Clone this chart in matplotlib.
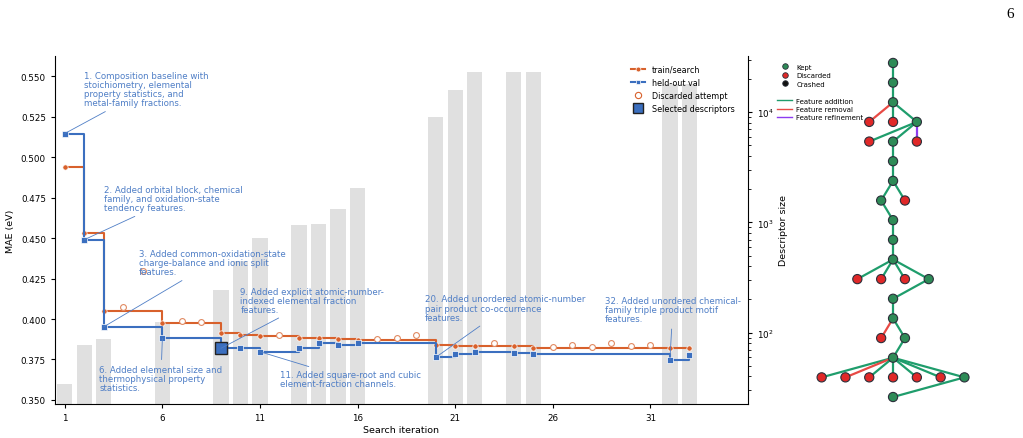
import matplotlib
matplotlib.use("Agg")
import matplotlib.pyplot as plt
from matplotlib.lines import Line2D

# Search history (kept steps)
kept_iter = [1, 2, 3, 6, 9, 10, 11, 13, 14, 15, 16, 20, 21, 22, 24, 25, 32, 33]
train_mae = [0.4940, 0.4529, 0.4051, 0.3975, 0.3912, 0.3903, 0.3897, 0.3885, 0.3881,
             0.3879, 0.3872, 0.3840, 0.3835, 0.3835, 0.3835, 0.3819, 0.3819, 0.3819]
val_mae = [0.5146, 0.4490, 0.3952, 0.3881, 0.3819, 0.3820, 0.3798, 0.3820, 0.3854,
           0.3841, 0.3850, 0.3763, 0.3784, 0.3794, 0.3792, 0.3786, 0.3749, 0.3778]
descriptor_size = [34, 77, 88, 126, 244, 447, 724, 949, 968, 1320, 2055, 9060,
                   15900, 23200, 23200, 23200, 18000, 18000]

# Discarded attempts
disc_iter = [4, 5, 7, 8, 12, 17, 18, 19, 23, 26, 27, 28, 29, 30, 31]
disc_mae = [0.4072, 0.4294, 0.3990, 0.3983, 0.3899, 0.3874, 0.3881, 0.3901, 0.3850,
            0.3829, 0.3840, 0.3829, 0.3854, 0.3831, 0.3841]

selected_iter = 9

# Annotated steps
annot_iter = [1, 2, 3, 6, 9, 11, 20, 32]
annot_text = [
    "1. Composition baseline with\nstoichiometry, elemental\nproperty statistics, and\nmetal-family fractions.",
    "2. Added orbital block, chemical\nfamily, and oxidation-state\ntendency features.",
    "3. Added common-oxidation-state\ncharge-balance and ionic split\nfeatures.",
    "6. Added elemental size and\nthermophysical property\nstatistics.",
    "9. Added explicit atomic-number-\nindexed elemental fraction\nfeatures.",
    "11. Added square-root and cubic\nelement-fraction channels.",
    "20. Added unordered atomic-number\npair product co-occurrence\nfeatures.",
    "32. Added unordered chemical-\nfamily triple product motif\nfeatures.",
]
# text anchor (top-left) in data coords
annot_xy = [(2.0, 0.5532), (2.99, 0.4827), (4.79, 0.4432), (2.77, 0.3715),
            (10.0, 0.4200), (12.02, 0.3684), (19.46, 0.4152), (28.66, 0.4141)]

# Search tree: node row, column offset, status; parent and edge type
node_row = [0, 1, 2, 3, 3, 3, 4, 4, 4, 5, 6, 7, 7, 8, 9, 10, 11, 11, 11, 11,
            12, 13, 14, 14, 15, 16, 16, 16, 16, 16, 16, 16, 17]
node_col = [0, 0, 0, -1, 0, 1, -1, 0, 1, 0, 0, -0.5, 0.5, 0, 0, 0, -1.5, -0.5, 0.5, 1.5,
            0, 0, -0.5, 0.5, 0, -3, -2, -1, 0, 1, 2, 3, 0]
node_status = ["K", "K", "K", "D", "D", "K", "D", "K", "D", "K", "K", "K", "D", "K", "K", "K",
               "D", "D", "D", "K", "K", "K", "D", "K", "K", "D", "D", "D", "D", "D", "D", "K", "K"]
node_parent = [None, 0, 1, 2, 2, 2, 5, 5, 5, 7, 9, 10, 10, 11, 13, 14, 15, 15, 15, 15,
               19, 20, 21, 21, 23, 24, 24, 24, 24, 24, 24, 24, 31]
edge_type = [None, "add", "add", "remove", "add", "add", "add", "add", "refine", "add", "add",
             "add", "add", "add", "add", "add", "add", "add", "add", "add", "add", "add",
             "remove", "add", "add", "add", "remove", "add", "add", "add", "add", "add", "add"]

orange = "#d8612c"
blue = "#3b6fbf"
annot_col = "#4f7ec6"
bar_col = "#e0e0e0"

fig = plt.figure(figsize=(10.23, 4.39), dpi=100)
W, H = 1023, 439

ax = fig.add_axes([55 / W, (H - 405) / H, (748 - 55) / W, (405 - 57) / H])
ax2 = ax.twinx()
ax.set_zorder(ax2.get_zorder() + 1)
ax.patch.set_visible(False)

# descriptor size bars (log scale, right axis)
ax2.bar(kept_iter, descriptor_size, width=0.78, color=bar_col, zorder=0)
ax2.set_yscale("log")
ax2.set_ylim(22.5, 32400)
ax2.set_ylabel("Descriptor size", fontsize=6.8)
ax2.tick_params(labelsize=6.3, length=3)
ax2.tick_params(which="minor", length=2)

# MAE lines
ax.plot(kept_iter, train_mae, drawstyle="steps-post", color=orange, lw=1.5,
        marker="o", ms=3.8, mec="white", mew=0.5, zorder=3)
ax.plot(kept_iter, val_mae, drawstyle="steps-post", color=blue, lw=1.5,
        marker="s", ms=3.8, mec="white", mew=0.5, zorder=4)
ax.plot(disc_iter, disc_mae, ls="none", marker="o", ms=4.2, mfc="white",
        mec="#e08a62", mew=0.8, zorder=3)
sel_val = val_mae[kept_iter.index(selected_iter)]
ax.plot([selected_iter], [sel_val], ls="none", marker="s", ms=8, mfc=blue,
        mec="#222222", mew=1.0, zorder=5)

for it, txt, (tx, ty) in zip(annot_iter, annot_text, annot_xy):
    vy = val_mae[kept_iter.index(it)]
    ax.annotate(txt, xy=(it, vy), xytext=(tx, ty), ha="left", va="top",
                fontsize=6.2, color=annot_col, linespacing=1.02, zorder=6,
                arrowprops=dict(arrowstyle="-", color=annot_col, lw=0.6,
                                shrinkA=2, shrinkB=0))

ax.set_xlim(0.5, 36.0)
ax.set_ylim(0.3475, 0.5625)
ax.set_xticks([1, 6, 11, 16, 21, 26, 31])
ax.set_yticks([0.35, 0.375, 0.4, 0.425, 0.45, 0.475, 0.5, 0.525, 0.55])
ax.yaxis.set_major_formatter(matplotlib.ticker.FormatStrFormatter("%.3f"))
ax.tick_params(labelsize=6.3, length=3)
ax.set_xlabel("Search iteration", fontsize=6.8, labelpad=2)
ax.set_ylabel("MAE (eV)", fontsize=6.8)
ax.spines["top"].set_visible(False)
ax.spines["right"].set_visible(False)
ax2.spines["top"].set_visible(False)
ax2.spines["left"].set_visible(False)
ax2.spines["bottom"].set_visible(False)

handles = [
    Line2D([], [], color=orange, lw=1.5, marker="o", ms=3.5, mec="white", mew=0.5),
    Line2D([], [], color=blue, lw=1.5, marker="s", ms=3.5, mec="white", mew=0.5),
    Line2D([], [], ls="none", marker="o", ms=4.5, mfc="white", mec=orange, mew=0.8),
    Line2D([], [], ls="none", marker="s", ms=7, mfc=blue, mec="#222222", mew=1.0),
]
labels = ["train/search", "held-out val", "Discarded attempt", "Selected descriptors"]
ax.legend(handles, labels, loc="upper left", bbox_to_anchor=(625 / W, 1 - 60 / H),
          bbox_transform=fig.transFigure, frameon=False, fontsize=5.8,
          handlelength=1.8, handletextpad=0.8, borderpad=0.2)

# search tree
axt = fig.add_axes([760 / W, (H - 410) / H, 263 / W, 360 / H])
axt.set_xlim(-5.59, 5.46)
axt.set_ylim(17.61, -0.71)
axt.axis("off")
edge_colors = {"add": "#1f9d6c", "remove": "#e84a45", "refine": "#8d3cf0"}
node_colors = {"K": "#2e8b57", "D": "#e02828", "C": "#111111"}
for i, p in enumerate(node_parent):
    if p is None:
        continue
    axt.plot([node_col[p], node_col[i]], [node_row[p], node_row[i]],
             color=edge_colors[edge_type[i]], lw=1.6, zorder=1, solid_capstyle="round")
axt.scatter(node_col, node_row, s=44, c=[node_colors[s] for s in node_status],
            edgecolors="#2b2f3a", linewidths=0.8, zorder=3)

tree_handles = [
    Line2D([], [], ls="none", marker="o", ms=4, mfc=node_colors["K"], mec="#2b2f3a", mew=0.6),
    Line2D([], [], ls="none", marker="o", ms=4, mfc=node_colors["D"], mec="#2b2f3a", mew=0.6),
    Line2D([], [], ls="none", marker="o", ms=4, mfc=node_colors["C"], mec="#2b2f3a", mew=0.6),
    Line2D([], [], ls="none"),
    Line2D([], [], color=edge_colors["add"], lw=1.0),
    Line2D([], [], color=edge_colors["remove"], lw=1.0),
    Line2D([], [], color=edge_colors["refine"], lw=1.0),
]
tree_labels = ["Kept", "Discarded", "Crashed", "", "Feature addition", "Feature removal",
               "Feature refinement"]
fig.legend(tree_handles, tree_labels, loc="upper left", bbox_to_anchor=(772 / W, 1 - 60 / H),
           frameon=False, fontsize=5, handlelength=2.2, handletextpad=0.6,
           labelspacing=0.35, borderpad=0.2)

fig.text(1010 / W, 1 - 14 / H, "6", fontsize=11, family="Liberation Serif",
         ha="center", va="center")

fig.savefig("out.png", dpi=100)
